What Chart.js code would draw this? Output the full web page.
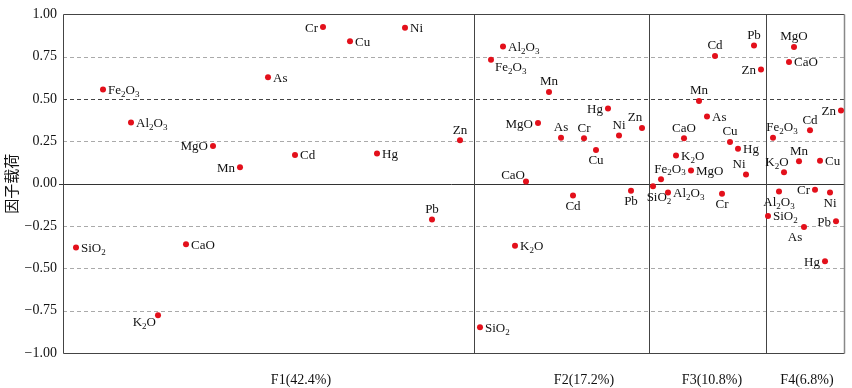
<!DOCTYPE html>
<html>
<head>
<meta charset="utf-8">
<script src="https://cdn.jsdelivr.net/npm/chart.js@4.4.1/dist/chart.umd.min.js"></script>
<style>
  html, body { margin: 0; padding: 0; background: #fff; }
</style>
</head>
<body>
<canvas id="chart" width="852" height="388"></canvas>
<script>
// element names, same order in every factor
var elements = ['SiO2', 'Al2O3', 'Fe2O3', 'CaO', 'MgO', 'K2O', 'As', 'Cd', 'Cr', 'Cu', 'Hg', 'Mn', 'Ni', 'Pb', 'Zn'];

// loadings
var f1Load = [-0.377, 0.362, 0.556, -0.358, 0.223, -0.777, 0.629, 0.170, 0.925, 0.842, 0.179, 0.097, 0.921, -0.212, 0.256];
var f2Load = [-0.848, 0.811, 0.732, 0.013, 0.358, -0.367, 0.272, -0.069, 0.268, 0.199, 0.444, 0.542, 0.284, -0.042, 0.329];
var f3Load = [-0.015, -0.052, 0.027, 0.268, 0.078, 0.166, 0.397, 0.754, -0.060, 0.246, 0.207, 0.489, 0.054, 0.817, 0.674];
var f4Load = [-0.191, -0.046, 0.272, 0.719, 0.807, 0.068, -0.256, 0.315, -0.036, 0.136, -0.458, 0.132, -0.052, -0.222, 0.432];

// horizontal spread of the points inside each panel
var f1Pos = [13, 68, 40, 123, 150, 95, 205, 232, 260, 287, 314, 177, 342, 369, 397];
var f2Pos = [417, 440, 428, 463, 475, 452, 498, 510, 521, 533, 545, 486, 556, 568, 579];
var f3Pos = [590, 605, 598, 621, 628, 613, 644, 652, 659, 667, 675, 636, 683, 691, 698];
var f4Pos = [705, 716, 710, 726, 731, 721, 741, 747, 752, 757, 762, 736, 767, 773, 778];

var factorLabels = ['F1(42.4%)', 'F2(17.2%)', 'F3(10.8%)', 'F4(6.8%)'];
var factorLabelPos = [238, 521, 649, 744];
var panelEdges = [411, 586, 703];

// where each label sits around its point
var f1Place = ['r', 'r', 'r', 'r', 'l', 'ld', 'r', 'r', 'l', 'r', 'r', 'l', 'r', 't', 't'];
var f2Place = ['r', 'r', 'rd', 'lu', 'l', 'r', 't', 'b', 't', 'b', 'l', 't', 't', 'b', 'tl'];
var f3Place = ['br', 'r', 'tr', 't', 'r', 'r', 'r', 't', 'b', 't', 'r', 't', 'tl', 't', 'l'];
var f4Place = ['r', 'b', 'tr', 'r', 't', 'tl', 'bl', 't', 'l', 'r', 'l', 't', 'b', 'l', 'l'];

var places = [f1Place, f2Place, f3Place, f4Place];
var serif = '"Liberation Serif", "Times New Roman", serif';

function makeData(pos, load) {
  var data = [];
  for (var i = 0; i < pos.length; ++i) {
    data.push({x: pos[i], y: load[i]});
  }
  return data;
}

function fmt(v) {
  var s = Math.abs(v).toFixed(2);
  return v < 0 ? '\u2212' + s : s;
}

function formulaWidth(c, text) {
  var w = 0;
  for (var i = 0; i < text.length; ++i) {
    var ch = text[i];
    c.font = /\d/.test(ch) ? '9px ' + serif : '13px ' + serif;
    w += c.measureText(ch).width;
  }
  return w;
}

function drawFormula(c, text, x, y, align) {
  var w = formulaWidth(c, text);
  var sx = x;
  if (align === 'center') sx = x - w / 2;
  else if (align === 'right') sx = x - w;
  c.textAlign = 'left';
  c.textBaseline = 'middle';
  for (var i = 0; i < text.length; ++i) {
    var ch = text[i];
    var sub = /\d/.test(ch);
    c.font = sub ? '9px ' + serif : '13px ' + serif;
    c.fillText(ch, sx, sub ? y + 4 : y);
    sx += c.measureText(ch).width;
  }
}

function placeLabel(code, px, py) {
  switch (code) {
    case 'r': return [px + 5, py + 1, 'left'];
    case 'l': return [px - 5, py + 1, 'right'];
    case 't': return [px, py - 10, 'center'];
    case 'b': return [px, py + 11, 'center'];
    case 'tl': return [px - 7, py - 10, 'center'];
    case 'tr': return [px + 9, py - 10, 'center'];
    case 'bl': return [px - 9, py + 11, 'center'];
    case 'br': return [px + 6, py + 11, 'center'];
    case 'ld': return [px - 2, py + 7, 'right'];
    case 'lu': return [px - 1, py - 6, 'right'];
    case 'rd': return [px + 4, py + 8, 'left'];
  }
  return [px + 5, py, 'left'];
}

var framePlugin = {
  id: 'frame',
  beforeDatasetsDraw: function(chart) {
    var c = chart.ctx;
    var a = chart.chartArea;
    var ys = chart.scales.y;
    var xs = chart.scales.x;
    c.save();
    ys.ticks.forEach(function(t) {
      var v = t.value;
      if (Math.abs(v) >= 1) return;
      var y = Math.round(ys.getPixelForValue(v)) + 0.5;
      var x0 = a.left;
      c.beginPath();
      if (v === 0) {
        c.setLineDash([]);
        c.strokeStyle = '#333';
        x0 = a.left - 4;
      } else if (Math.abs(v - 0.5) < 1e-6) {
        c.setLineDash([4, 3]);
        c.strokeStyle = '#444';
      } else {
        c.setLineDash([4, 3]);
        c.strokeStyle = '#aaa';
      }
      c.lineWidth = 1;
      c.moveTo(x0, y);
      c.lineTo(a.right, y);
      c.stroke();
    });
    c.setLineDash([]);
    c.strokeStyle = '#444';
    c.lineWidth = 1;
    panelEdges.forEach(function(v) {
      var x = Math.round(xs.getPixelForValue(v)) + 0.5;
      c.beginPath();
      c.moveTo(x, a.top);
      c.lineTo(x, a.bottom);
      c.stroke();
    });
    var l = Math.round(a.left) + 0.5, r = Math.round(a.right) + 0.5;
    var t = Math.round(a.top) + 0.5, b = Math.round(a.bottom) + 0.5;
    c.beginPath();
    c.moveTo(r, t);
    c.lineTo(l, t);
    c.lineTo(l, b);
    c.lineTo(r, b);
    c.stroke();
    c.strokeStyle = '#888';
    c.lineWidth = 1.5;
    c.beginPath();
    c.moveTo(r, t);
    c.lineTo(r, b);
    c.stroke();
    c.restore();
  },
  afterDatasetsDraw: function(chart) {
    var c = chart.ctx;
    c.save();
    c.fillStyle = '#111';
    chart.data.datasets.forEach(function(ds, di) {
      var meta = chart.getDatasetMeta(di);
      meta.data.forEach(function(pt, i) {
        var p = placeLabel(places[di][i], pt.x, pt.y);
        drawFormula(c, elements[i], p[0], p[1], p[2]);
      });
    });
    c.restore();
  }
};

var pointStyle = {
  pointRadius: 3,
  pointHoverRadius: 3,
  pointBackgroundColor: '#e3101b',
  pointBorderWidth: 0,
  showLine: false
};

var ctx = document.getElementById('chart');

var chart = new Chart(ctx, {
  type: 'scatter',
  data: {
    datasets: [
      Object.assign({label: 'F1', data: makeData(f1Pos, f1Load)}, pointStyle),
      Object.assign({label: 'F2', data: makeData(f2Pos, f2Load)}, pointStyle),
      Object.assign({label: 'F3', data: makeData(f3Pos, f3Load)}, pointStyle),
      Object.assign({label: 'F4', data: makeData(f4Pos, f4Load)}, pointStyle)
    ]
  },
  options: {
    responsive: false,
    animation: false,
    layout: { padding: { top: 13, right: 8, left: 0, bottom: 0 } },
    plugins: {
      legend: { display: false },
      tooltip: { enabled: false }
    },
    scales: {
      x: {
        type: 'linear',
        min: 0,
        max: 781,
        grid: { display: false },
        border: { display: false },
        afterBuildTicks: function(scale) {
          scale.ticks = factorLabelPos.map(function(v) { return {value: v}; });
        },
        afterFit: function(scale) { scale.height = 35; },
        ticks: {
          autoSkip: false,
          maxRotation: 0,
          padding: 11,
          color: '#111',
          font: { family: serif, size: 14 },
          callback: function(v, i) { return factorLabels[i]; }
        }
      },
      y: {
        min: -1,
        max: 1,
        grid: { display: false, drawTicks: false },
        border: { display: false },
        afterFit: function(scale) { scale.width = 63; },
        ticks: {
          stepSize: 0.25,
          padding: 6,
          color: '#111',
          font: { family: serif, size: 14 },
          callback: function(v) { return fmt(v); }
        },
        title: {
          display: true,
          text: '因子载荷',
          color: '#111',
          padding: { top: 2, bottom: 0 },
          font: { family: '"Noto Sans CJK SC", sans-serif', size: 15 }
        }
      }
    }
  },
  plugins: [framePlugin]
});
</script>
</body>
</html>
